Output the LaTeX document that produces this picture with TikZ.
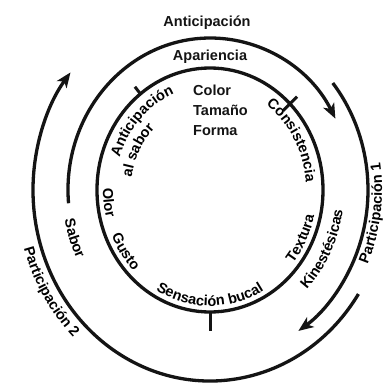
\documentclass[tikz,border=0pt]{standalone}
\usepackage{fontspec}
\setmainfont{Liberation Sans}
\usepackage{tikz}
\usetikzlibrary{arrows.meta, decorations.text}
\definecolor{inkBlack}{RGB}{20,20,20}
\newcommand{\lblfont}{\fontsize{14.5}{20}\selectfont\bfseries}

\begin{document}
\begin{tikzpicture}[x=1pt, y=1pt,
    ring/.style={draw=inkBlack, line width=3.3pt},
    flow/.style={ring, -{Stealth[length=15pt, width=12pt, inset=4pt]}},
    tickmark/.style={draw=inkBlack, line width=3pt},
    lbl/.style={font=\lblfont, text=inkBlack, inner sep=0pt},
    arcText/.style={decorate, decoration={text along path, text align=center, text={|\lblfont|#1}}}]
        \path[fill=white, use as bounding box] (-210,-193) rectangle (175,190);
        \draw[ring] (0,0) ellipse [x radius=113pt, y radius=122pt];
        \draw[flow] (185:142pt and 152pt) arc[start angle=185, end angle=28, x radius=142pt, y radius=152pt];
        \draw[flow] (39:158pt and 170pt) arc[start angle=39, end angle=-56, x radius=158pt, y radius=170pt];
        \draw[flow] (-33:177pt and 191pt) arc[start angle=-33, end angle=-218, x radius=177pt, y radius=191pt];
        \foreach \a/\lo/\hi in {128/-1/9, 45/-10/10, 270/-1/19} {
          \draw[tickmark] ({(113+\lo)*cos(\a)},{(122+\lo)*sin(\a)}) -- ({(113+\hi)*cos(\a)},{(122+\hi)*sin(\a)});
        }
        \node[lbl] (antic) at (-3,167) {Anticipación};
        \node[lbl] (apar) at (0,133) {Apariencia};
        \node[lbl, align=left, anchor=north west] (visual) at (-17,105) {Color\\Tamaño\\Forma};
        \path[arcText=Anticipación] (186:95pt and 104pt) arc[start angle=186, end angle=86, x radius=95pt, y radius=104pt];
        \path[arcText={al sabor}] (202:79pt and 87pt) arc[start angle=202, end angle=102, x radius=79pt, y radius=87pt];
        \path[arcText=Consistencia] (80:96pt and 105pt) arc[start angle=80, end angle=-20, x radius=96pt, y radius=105pt];
        \path[arcText=Textura] (-77:107pt and 116pt) arc[start angle=-77, end angle=23, x radius=107pt, y radius=116pt];
        \path[arcText={Sensación bucal}] (-160:107pt and 116pt) arc[start angle=-160, end angle=-20, x radius=107pt, y radius=116pt];
        \path[arcText=Gusto] (-195:107pt and 116pt) arc[start angle=-195, end angle=-95, x radius=107pt, y radius=116pt];
        \path[arcText=Olor] (-223:107pt and 116pt) arc[start angle=-223, end angle=-123, x radius=107pt, y radius=116pt];
        \path[arcText=Kinestésicas] (-87:134pt and 144pt) arc[start angle=-87, end angle=33, x radius=134pt, y radius=144pt];
        \path[arcText=Sabor] (-211:148pt and 159pt) arc[start angle=-211, end angle=-111, x radius=148pt, y radius=159pt];
        \path[arcText={Participación 1}] (-68:172pt and 185pt) arc[start angle=-68, end angle=52, x radius=172pt, y radius=185pt];
        \path[arcText={Participación 2}] (-208:194pt and 208pt) arc[start angle=-208, end angle=-88, x radius=194pt, y radius=208pt];
      \end{tikzpicture}
\end{document}
